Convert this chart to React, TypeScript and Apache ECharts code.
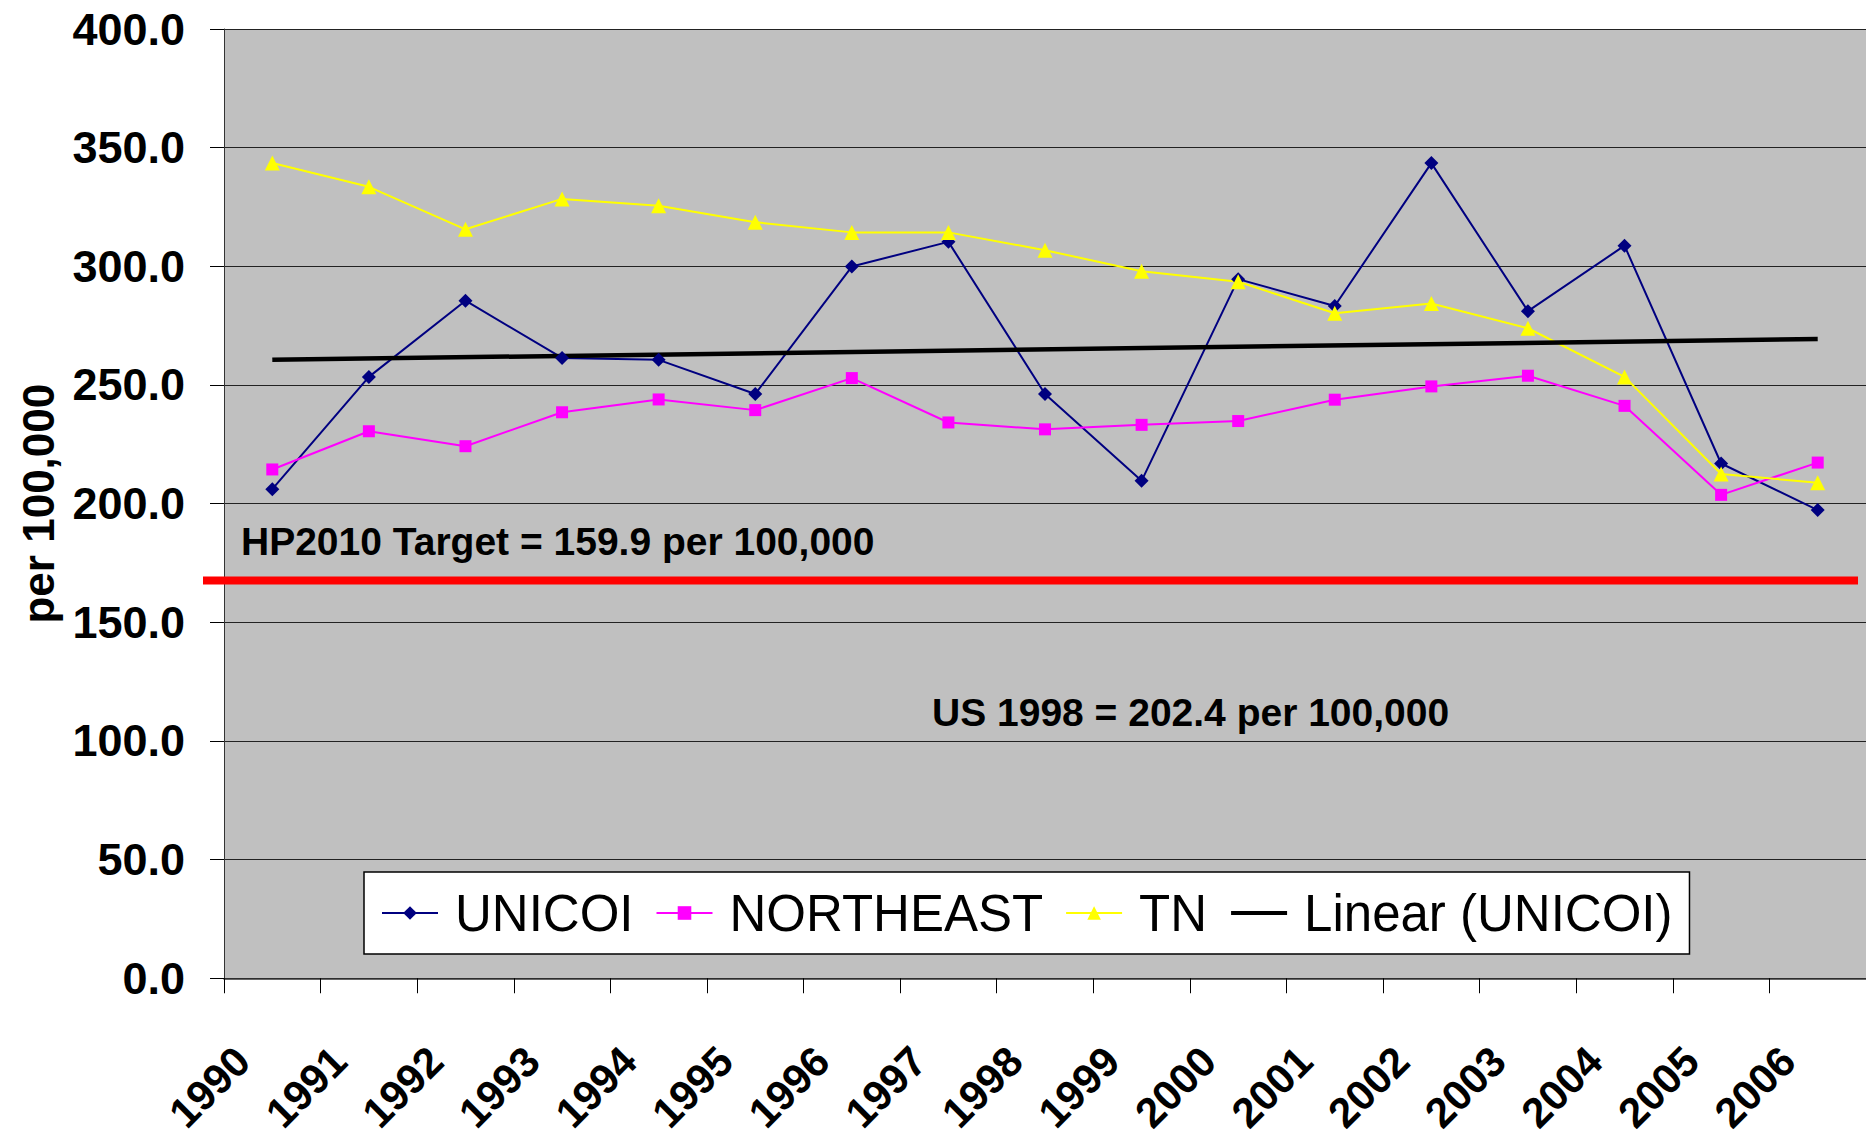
import React, { useEffect, useRef } from "react";
import * as echarts from "echarts";

// ---- data ----
const years = ["1990", "1991", "1992", "1993", "1994", "1995", "1996", "1997", "1998", "1999", "2000", "2001", "2002", "2003", "2004", "2005", "2006"];
const unicoi = [206.1, 253.4, 285.5, 261.4, 260.6, 246.2, 299.9, 310.3, 246.2, 209.6, 294.6, 283.3, 343.5, 281.1, 308.7, 216.9, 197.3];
const northeast = [214.4, 230.5, 224.2, 238.5, 243.9, 239.4, 252.9, 234.2, 231.3, 233.2, 234.8, 243.8, 249.4, 253.9, 241.2, 203.7, 217.3];
const tn = [343.5, 333.5, 315.6, 328.4, 325.5, 318.6, 314.3, 314.3, 306.8, 297.9, 293.5, 280.2, 284.3, 273.9, 253.4, 212.5, 208.8];
const trendStart = 260.6; // Linear (UNICOI) at 1990
const trendEnd = 269.4; // Linear (UNICOI) at 2006
const yMin = 0;
const yMax = 400;
const yStep = 50;
const targetLineValue = 167.6; // where the red target line is drawn
const seriesNames = ["UNICOI", "NORTHEAST", "TN", "Linear (UNICOI)"];
const targetText = "HP2010 Target = 159.9 per 100,000";
const usText = "US 1998 = 202.4 per 100,000";
const yAxisName = "per 100,000";

const FONT = '"Liberation Sans", Arial, sans-serif';

export default function App() {
  const ref = useRef<HTMLDivElement>(null);

  useEffect(() => {
    if (!ref.current) return;
    const chart = echarts.init(ref.current, undefined, { renderer: "svg" });

    const linear: (number | null)[] = years.map(() => null);
    linear[0] = trendStart;
    linear[years.length - 1] = trendEnd;

    const option: any = {
      animation: false,
      backgroundColor: "#ffffff",
      grid: {
        left: 224,
        right: -4,
        top: 29,
        bottom: 155,
        show: true,
        backgroundColor: "#C0C0C0",
        borderWidth: 0,
        containLabel: false,
      },
      xAxis: {
        type: "category",
        data: years,
        boundaryGap: true,
        axisLine: { show: true, lineStyle: { color: "#333333", width: 1.5 } },
        axisTick: { show: true, inside: false, length: 15, interval: 0, lineStyle: { color: "#000", width: 1 } },
        axisLabel: {
          interval: 0,
          rotate: 45,
          margin: 46,
          padding: [0, 42, 0, 0],
          fontFamily: FONT,
          fontWeight: "bold",
          fontSize: 42,
          color: "#000",
        },
        splitLine: { show: false },
      },
      yAxis: {
        type: "value",
        min: yMin,
        max: yMax,
        interval: yStep,
        name: yAxisName,
        nameLocation: "middle",
        nameGap: 164,
        nameRotate: 90,
        nameTextStyle: { fontFamily: FONT, fontWeight: "bold", fontSize: 44, color: "#000" },
        axisLine: { show: true, lineStyle: { color: "#333333", width: 1 } },
        axisTick: { show: true, inside: false, length: 14, lineStyle: { color: "#000", width: 1 } },
        axisLabel: {
          margin: 39,
          fontFamily: FONT,
          fontWeight: "bold",
          fontSize: 45,
          color: "#000",
          formatter: (v: number) => v.toFixed(1),
        },
        splitLine: { show: true, lineStyle: { color: "#222222", width: 1 } },
      },
      legend: {
        show: true,
        left: 364,
        top: 872,
        orient: "horizontal",
        itemWidth: 56,
        itemHeight: 17,
        itemGap: 22,
        padding: [12, 17, 12, 17],
        backgroundColor: "#ffffff",
        borderColor: "#000000",
        borderWidth: 1.5,
        textStyle: { fontFamily: FONT, fontSize: 51, color: "#000", padding: [0, 0, 0, 12], lineHeight: 58 },
        data: [
          seriesNames[0],
          seriesNames[1],
          seriesNames[2],
          { name: seriesNames[3], itemStyle: { opacity: 0 }, lineStyle: { width: 4 } },
        ],
      },
      series: [
        {
          name: seriesNames[0],
          type: "line",
          data: unicoi,
          symbol: "diamond",
          symbolSize: 14,
          lineStyle: { color: "#000080", width: 2 },
          itemStyle: { color: "#000080" },
        },
        {
          name: seriesNames[1],
          type: "line",
          data: northeast,
          symbol: "rect",
          symbolSize: 12,
          lineStyle: { color: "#FF00FF", width: 2 },
          itemStyle: { color: "#FF00FF" },
        },
        {
          name: seriesNames[2],
          type: "line",
          data: tn,
          symbol: "triangle",
          symbolSize: 15,
          lineStyle: { color: "#FFFF00", width: 2 },
          itemStyle: { color: "#FFFF00" },
        },
        {
          name: seriesNames[3],
          type: "line",
          data: linear,
          connectNulls: true,
          symbol: "none",
          lineStyle: { color: "#000000", width: 4.5 },
          itemStyle: { color: "#000000" },
        },
      ],
    };

    chart.setOption(option);

    const yTarget = chart.convertToPixel({ yAxisIndex: 0 }, targetLineValue) as number;

    chart.setOption({
      graphic: [
        {
          type: "line",
          z: 50,
          shape: { x1: 203, y1: yTarget, x2: 1858, y2: yTarget },
          style: { stroke: "#FF0000", lineWidth: 8 },
        },
        {
          type: "text",
          z: 50,
          x: 241,
          y: 541,
          style: { text: targetText, font: `bold 39px ${FONT}`, fill: "#000", align: "left", verticalAlign: "middle" },
        },
        {
          type: "text",
          z: 50,
          x: 932,
          y: 712,
          style: { text: usText, font: `bold 39px ${FONT}`, fill: "#000", align: "left", verticalAlign: "middle" },
        },
      ],
    });

    return () => {
      chart.dispose();
    };
  }, []);

  return (
    <div
      ref={ref}
      style={{ position: "absolute", left: 0, top: 0, width: 1866, height: 1137, background: "#fff" }}
    />
  );
}
